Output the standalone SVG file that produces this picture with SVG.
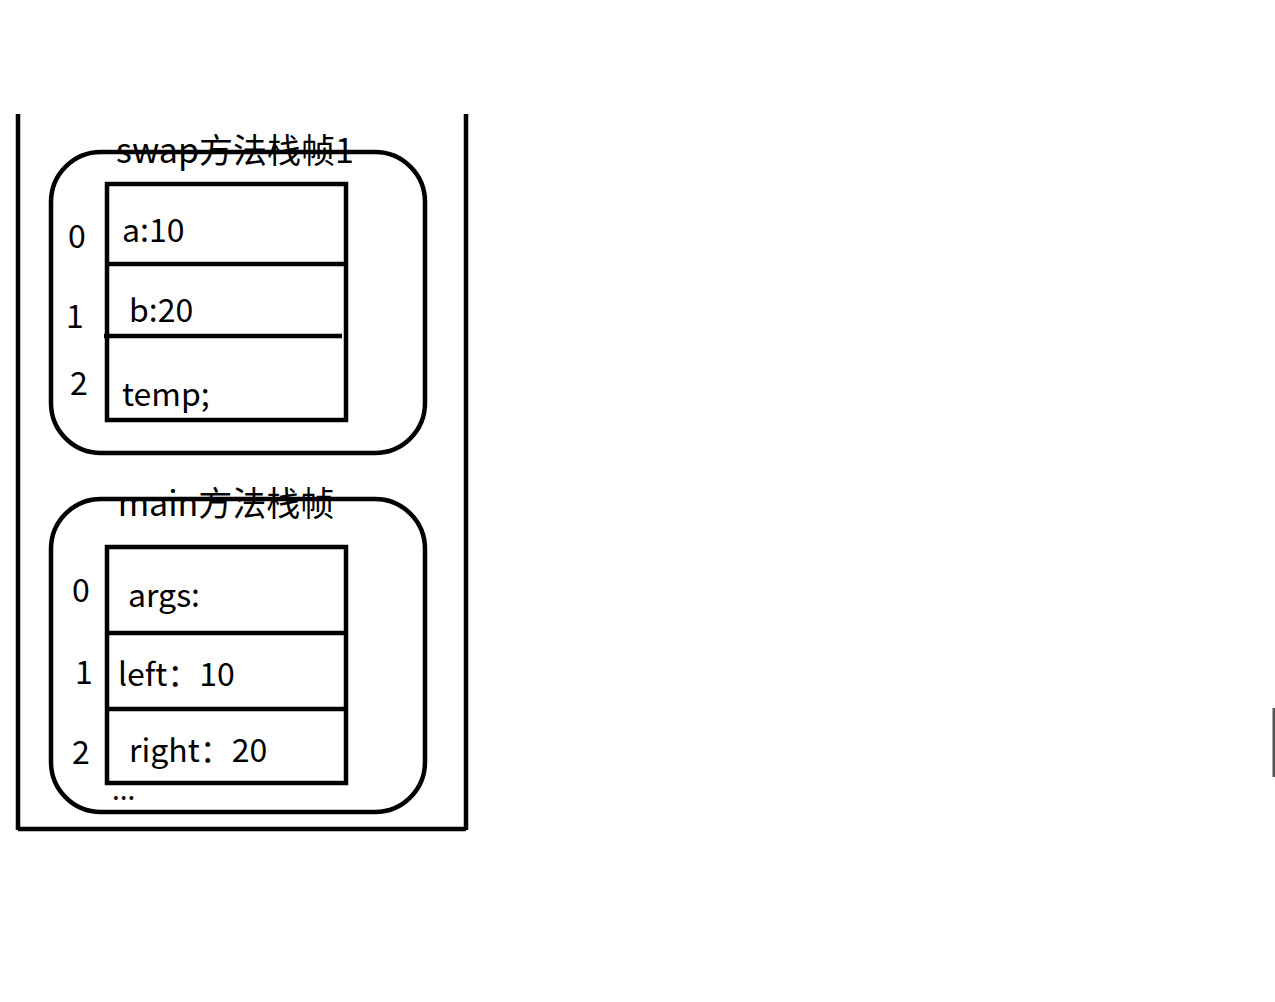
<svg xmlns="http://www.w3.org/2000/svg" width="1275" height="1002" viewBox="0 0 1275 1002">
<style>
.s{fill:none;stroke:#000;stroke-width:4.5}
.t{font-family:"Noto Sans CJK SC","Noto Sans",sans-serif;font-size:32px;fill:#000}
.ti{font-family:"Noto Sans CJK SC","Noto Sans",sans-serif;font-size:34px;fill:#000;text-anchor:middle}
</style>
<rect width="1275" height="1002" fill="#fff"/>
<g id="stack">
<path class="s" d="M18 114 V830 M466 114 V830 M18 829 H466"/>
</g>
<g id="swap-frame">
<rect class="s" x="51" y="152" width="374" height="301" rx="50"/>
<rect class="s" x="107" y="184" width="239" height="236"/>
<path class="s" d="M107 264 H346 M104 336 H342"/>
<text class="ti" x="235" y="163">swap方法栈帧1</text>
<text class="t" x="68" y="248">0</text>
<text class="t" x="66" y="328">1</text>
<text class="t" x="70" y="395">2</text>
<text class="t" x="122" y="242">a:10</text>
<text class="t" x="129" y="322">b:20</text>
<text class="t" x="122" y="406">temp;</text>
</g>
<g id="main-frame">
<rect class="s" x="51" y="499" width="374" height="313" rx="50"/>
<rect class="s" x="107" y="547" width="239" height="236"/>
<path class="s" d="M107 633 H346 M107 709 H346"/>
<text class="ti" x="226" y="516">main方法栈帧</text>
<text class="t" x="72" y="602">0</text>
<text class="t" x="75" y="684">1</text>
<text class="t" x="72" y="764">2</text>
<text class="t" x="128" y="607">args:</text>
<text class="t" x="118" y="686">left：10</text>
<text class="t" x="129" y="762">right：20</text>
<text class="t" x="112" y="800" style="font-size:28px">...</text>
</g>
<g id="edge">
<path d="M1274 708 V777" stroke="#555" stroke-width="3" fill="none"/>
</g>
<g id="connectors"></g>
</svg>
